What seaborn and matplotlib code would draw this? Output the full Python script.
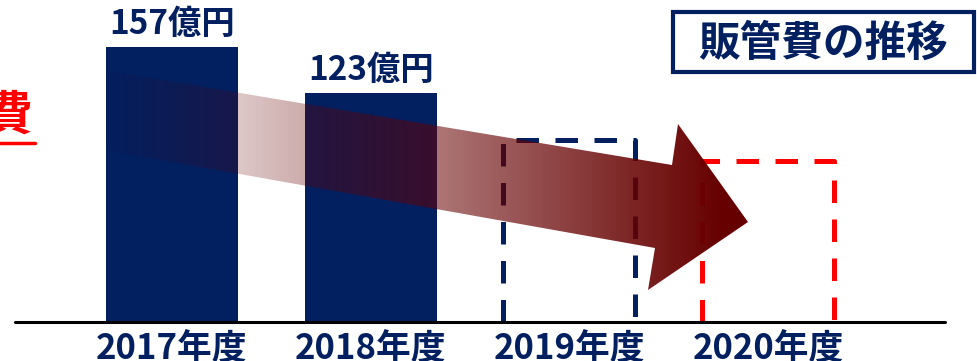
import numpy as np
import matplotlib
matplotlib.use("Agg")
import matplotlib.pyplot as plt
from matplotlib.patches import Polygon, Rectangle
import seaborn as sns
import pandas as pd

# ---------------- data ----------------
years = ["2017年度", "2018年度", "2019年度", "2020年度"]
actual_years = ["2017年度", "2018年度"]
actual_values = [157, 123]
value_labels = ["157億円", "123億円"]
plan_years = ["2019年度", "2020年度"]
plan_values = [88, 73]
title = "販管費の推移"
side_label = "販管費"

# ---------------- style ----------------
NAVY = "#021F5F"
RED = "#FF0000"
PLAN_COLORS = [NAVY, RED]
BASE = -46            # value at the drawn axis line
W, H = 977, 361       # figure size in px
PX_PER_UNIT = 275 / 203
AXIS_PX = 322
X0_PX, STEP_PX = 172, 198.67
BAR_W = 0.665

sns.set_theme(style="white")
plt.rcParams["font.family"] = ["Noto Sans CJK JP", "DejaVu Sans"]

fig = plt.figure(figsize=(W / 100, H / 100), dpi=100)
ax = fig.add_axes([0, 0, 1, 1])

df = pd.DataFrame({"year": actual_years,
                   "height": np.array(actual_values, dtype=float) - BASE})
sns.barplot(data=df, x="year", y="height", order=years, color=NAVY,
            saturation=1, width=BAR_W, bottom=BASE, linewidth=0, ax=ax)

# dashed plan boxes
for yr, v, c in zip(plan_years, plan_values, PLAN_COLORS):
    p = years.index(yr)
    xa, xb = p - BAR_W / 2, p + BAR_W / 2
    ax.plot([xa, xa, xb, xb], [BASE, v, v, BASE], color=c, lw=3.6,
            ls=(0, (4.5, 3.3)), dash_capstyle="butt", solid_joinstyle="miter",
            zorder=3)

# value labels
for yr, v, lbl in zip(actual_years, actual_values, value_labels):
    p = years.index(yr)
    ax.annotate(lbl, (p, v), xytext=(0, 16), textcoords="offset points",
                ha="center", va="center", fontsize=24, fontweight="bold",
                color=NAVY)

# category labels
for p, yr in enumerate(years):
    ax.text(p, 1 - 349 / H, yr, transform=ax.get_xaxis_transform(),
            ha="center", va="center", fontsize=25, fontweight="bold",
            color=NAVY)

ax.axhline(BASE, xmin=15 / W, xmax=945 / W, color="black", lw=2.2, zorder=5)

ax.set_xlim(-X0_PX / STEP_PX, (W - X0_PX) / STEP_PX)
ax.set_ylim(BASE - (H - AXIS_PX) / PX_PER_UNIT, BASE + AXIS_PX / PX_PER_UNIT)
ax.axis("off")

# ---------------- overlay (pixel space) ----------------
ov = fig.add_axes([0, 0, 1, 1], zorder=5)
ov.patch.set_alpha(0)
arrow_pts = [(102, 70), (672, 165), (678, 124), (748, 222),
             (648, 290), (655, 248), (88, 147)]
poly = Polygon(arrow_pts, closed=True, facecolor="none", edgecolor="none")
ov.add_patch(poly)
grad = np.zeros((H, W, 4))
xs = np.arange(W)
grad[..., 0] = 0.40
grad[..., 3] = np.clip((xs - 100) / 620, 0, 1)[None, :]
im = ov.imshow(grad, extent=(0, W, H, 0), aspect="auto",
               interpolation="bilinear", zorder=1)
im.set_clip_path(poly)

ov.add_patch(Rectangle((673, 12), 301, 60, facecolor="white",
                       edgecolor=NAVY, lw=3, zorder=2))
ov.text(823, 44, title, ha="center", va="center", fontsize=30,
        fontweight="bold", color=NAVY, zorder=3)

ov.text(33, 117, side_label, ha="right", va="center", fontsize=34,
        fontweight="bold", color=RED, zorder=3)
ov.plot([0, 35], [142.5, 142.5], color=RED, lw=2.5, zorder=3)

ov.set_xlim(0, W)
ov.set_ylim(H, 0)
ov.axis("off")

fig.savefig("out.png", dpi=100)
